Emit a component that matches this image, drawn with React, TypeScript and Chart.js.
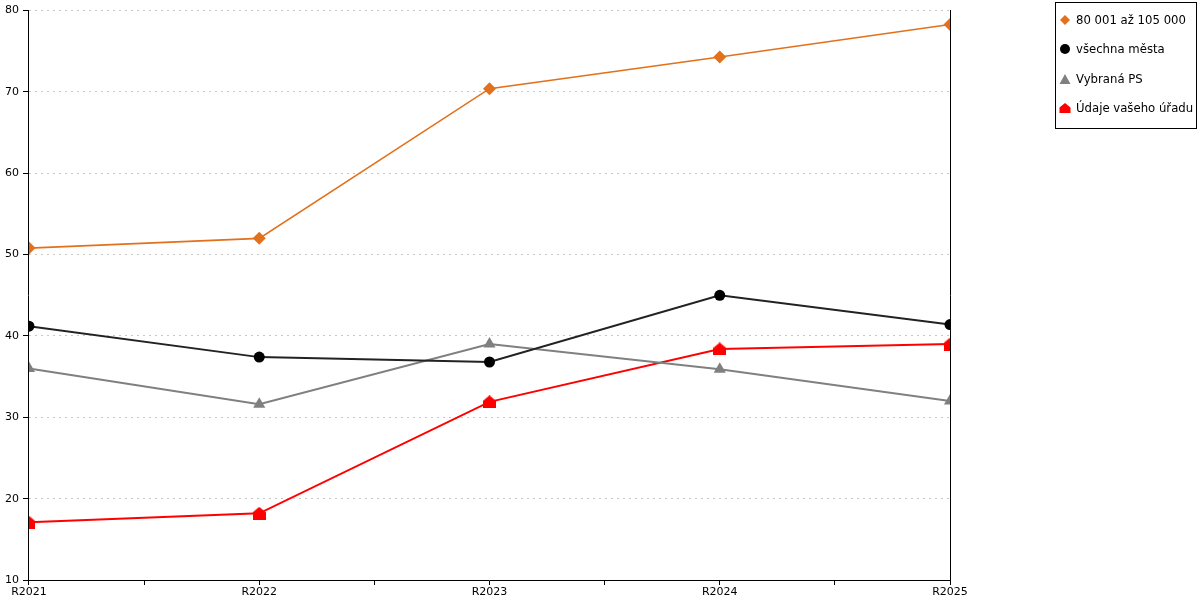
import { useEffect, useRef } from "react";
import { Chart, registerables } from "chart.js";

Chart.register(...registerables);

const YEARS = ["R2021", "R2022", "R2023", "R2024", "R2025"];
const GROUP_80K = [50.8, 52.0, 70.4, 74.3, 78.3];
const ALL_CITIES = [41.2, 37.4, 36.8, 45.0, 41.4];
const SELECTED_PS = [36.0, 31.6, 39.0, 35.9, 32.0];
const YOUR_OFFICE = [17.1, 18.2, 31.9, 38.4, 39.0];
const SERIES_NAMES = ["80 001 až 105 000", "všechna města", "Vybraná PS", "Údaje vašeho úřadu"];
const SERIES_COLORS = ["#e3701a", "#000000", "#808080", "#ff0000"];
const Y_MIN = 10;
const Y_MAX = 80;
const Y_STEP = 10;

const FONT = "'DejaVu Sans', Verdana, sans-serif";

// red "house" marker used for the office series
function makeHouse(size: number, color: string) {
  const c = document.createElement("canvas");
  c.width = size;
  c.height = size;
  const ctx = c.getContext("2d")!;
  ctx.fillStyle = color;
  ctx.beginPath();
  ctx.moveTo(size / 2, 0);
  ctx.lineTo(size, size * 0.42);
  ctx.lineTo(size, size);
  ctx.lineTo(0, size);
  ctx.lineTo(0, size * 0.42);
  ctx.closePath();
  ctx.fill();
  return c;
}

const toPoints = (vals: number[]) => vals.map((y, i) => ({ x: i, y }));

function Marker({ kind, color }: { kind: number; color: string }) {
  const shapes = [
    <polygon points="6,1 11,6 6,11 1,6" fill={color} />,
    <circle cx="6" cy="6" r="5" fill={color} />,
    <polygon points="6,1 11.5,11 0.5,11" fill={color} />,
    <polygon points="6,1 11.5,5.5 11.5,11 0.5,11 0.5,5.5" fill={color} />,
  ];
  return (
    <svg width="12" height="12" style={{ marginRight: 5, flex: "none" }}>
      {shapes[kind]}
    </svg>
  );
}

export default function App() {
  const canvasRef = useRef<HTMLCanvasElement>(null);

  useEffect(() => {
    document.body.style.margin = "0";
    if (!canvasRef.current) return;
    Chart.defaults.font.family = FONT;
    Chart.defaults.font.size = 11;
    Chart.defaults.color = "#000";

    const house = makeHouse(13, "#ff0000");

    const chart = new Chart(canvasRef.current, {
      type: "line",
      data: {
        datasets: [
          {
            label: SERIES_NAMES[0],
            data: toPoints(GROUP_80K),
            borderColor: SERIES_COLORS[0],
            backgroundColor: SERIES_COLORS[0],
            borderWidth: 1.6,
            pointStyle: "rectRot",
            pointRadius: 6.5,
            pointBorderWidth: 0,
          },
          {
            label: SERIES_NAMES[1],
            data: toPoints(ALL_CITIES),
            borderColor: "#222222",
            backgroundColor: SERIES_COLORS[1],
            borderWidth: 2,
            pointStyle: "circle",
            pointRadius: 5.5,
            pointBorderWidth: 0,
          },
          {
            label: SERIES_NAMES[2],
            data: toPoints(SELECTED_PS),
            borderColor: SERIES_COLORS[2],
            backgroundColor: SERIES_COLORS[2],
            borderWidth: 2,
            pointStyle: "triangle",
            pointRadius: 7,
            pointBorderWidth: 0,
          },
          {
            label: SERIES_NAMES[3],
            data: toPoints(YOUR_OFFICE),
            borderColor: SERIES_COLORS[3],
            backgroundColor: SERIES_COLORS[3],
            borderWidth: 2,
            pointStyle: house,
            pointRadius: 6,
            pointBorderWidth: 0,
          },
        ],
      },
      options: {
        animation: false,
        responsive: false,
        maintainAspectRatio: false,
        layout: { padding: { left: 1, top: 4, right: 242, bottom: 0 } },
        plugins: {
          legend: { display: false },
          tooltip: { enabled: false },
        },
        scales: {
          x: {
            type: "linear",
            min: 0,
            max: YEARS.length - 1,
            ticks: {
              stepSize: 0.5,
              autoSkip: false,
              maxRotation: 0,
              padding: 2,
              font: { lineHeight: 1 },
              callback: (v) => (Number.isInteger(v) ? YEARS[v as number] : ""),
            },
            grid: {
              drawOnChartArea: false,
              tickLength: 5,
              tickColor: "#000",
            },
            border: { color: "#000", width: 1 },
          },
          y: {
            min: Y_MIN,
            max: Y_MAX,
            ticks: { stepSize: Y_STEP, padding: 4 },
            grid: {
              color: "#c8c8c8",
              tickColor: "#000",
              tickLength: 6,
              tickBorderDash: [],
            },
            border: { color: "#000", width: 1, dash: [2, 4] },
          },
          y2: {
            position: "right",
            min: Y_MIN,
            max: Y_MAX,
            ticks: { display: false },
            grid: { display: false },
            border: { color: "#000", width: 1 },
          },
        },
      },
    });
    return () => chart.destroy();
  }, []);

  return (
    <div style={{ position: "relative", width: 1200, height: 600, fontFamily: FONT }}>
      <canvas ref={canvasRef} width={1200} height={600} />
      <div
        style={{
          position: "absolute",
          left: 1055,
          top: 2,
          width: 140,
          height: 123,
          border: "1px solid #000",
          boxSizing: "content-box",
          fontSize: 11.7,
          paddingTop: 2,
        }}
      >
        {SERIES_NAMES.map((name, i) => (
          <div key={name} style={{ display: "flex", alignItems: "center", height: 29.5, paddingLeft: 3, whiteSpace: "nowrap" }}>
            <Marker kind={i} color={SERIES_COLORS[i]} />
            {name}
          </div>
        ))}
      </div>
    </div>
  );
}
